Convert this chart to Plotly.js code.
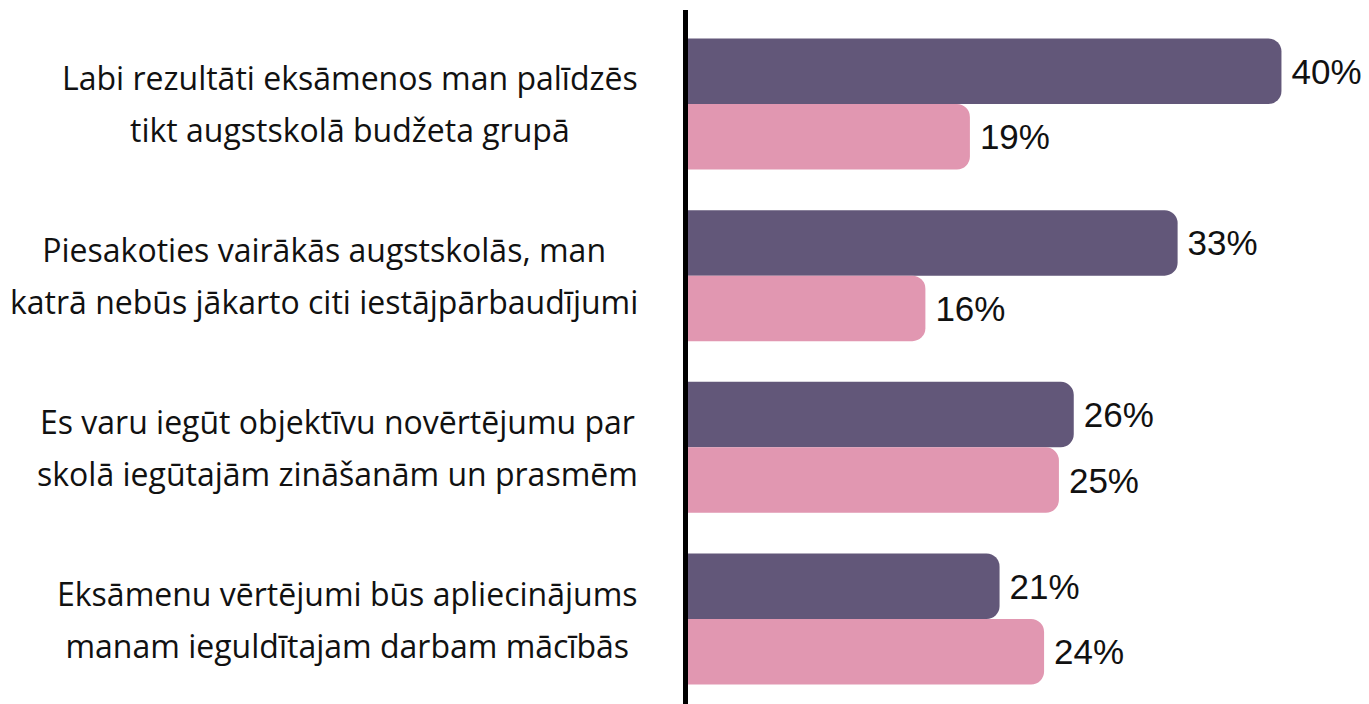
<!DOCTYPE html>
<html>
<head>
<meta charset="utf-8">
<script src="https://cdn.plot.ly/plotly-3.0.1.min.js"></script>
<style>html,body{margin:0;padding:0;background:#fff;}#chart{width:1369px;height:704px;}</style>
</head>
<body>
<div id="chart"></div>
<script>
const categories = ["c1", "c2", "c3", "c4"];
const labelLine1 = [
  "Labi rezultāti eksāmenos man palīdzēs",
  "Piesakoties vairākās augstskolās, man",
  "Es varu iegūt objektīvu novērtējumu par",
  "Eksāmenu vērtējumi būs apliecinājums"
];
const labelLine2 = [
  "tikt augstskolā budžeta grupā",
  "katrā nebūs jākarto citi iestājpārbaudījumi",
  "skolā iegūtajām zināšanām un prasmēm",
  "manam ieguldītajam darbam mācībās"
];
const seriesA = [40, 33, 26, 21];
const seriesB = [19, 16, 25, 24];

const darkColor = "#625779";
const pinkColor = "#e197b1";

const valueFont = {family: "Liberation Sans, Arial, sans-serif", size: 35, color: "#111111"};

const traces = [
  {
    type: "bar", orientation: "h", y: categories, x: seriesA,
    marker: {color: darkColor},
    texttemplate: "\u2009%{x}%", textposition: "outside", cliponaxis: false,
    constraintext: "none", textfont: valueFont, hoverinfo: "none"
  },
  {
    type: "bar", orientation: "h", y: categories, x: seriesB,
    marker: {color: pinkColor},
    texttemplate: "\u2009%{x}%", textposition: "outside", cliponaxis: false,
    constraintext: "none", textfont: valueFont, hoverinfo: "none"
  }
];

const annotations = categories.map((c, i) => ({
  xref: "paper", yref: "y", x: -0.0705, y: c,
  xanchor: "right", yanchor: "middle", align: "center",
  showarrow: false,
  text: "<span style='font-size:32px'>" + labelLine1[i] + "<br>" + labelLine2[i] + "</span>",
  font: {family: "Open Sans, Noto Sans, sans-serif", size: 40, color: "#111111", weight: 500}
}));

const layout = {
  width: 1369, height: 704,
  margin: {l: 688, r: 0, t: 10, b: 0, pad: 0},
  paper_bgcolor: "#ffffff", plot_bgcolor: "#ffffff",
  barmode: "group", bargap: 0.237, bargroupgap: 0,
  barcornerradius: 13,
  showlegend: false,
  xaxis: {range: [0, 45.9], visible: false, fixedrange: true},
  yaxis: {
    type: "category", range: [3.495, -0.5475],
    showline: true, linecolor: "#000000", linewidth: 5,
    showticklabels: false, ticks: "", showgrid: false, zeroline: false, fixedrange: true
  },
  annotations: annotations
};

Plotly.newPlot("chart", traces, layout, {displayModeBar: false, staticPlot: true});
</script>
</body>
</html>
